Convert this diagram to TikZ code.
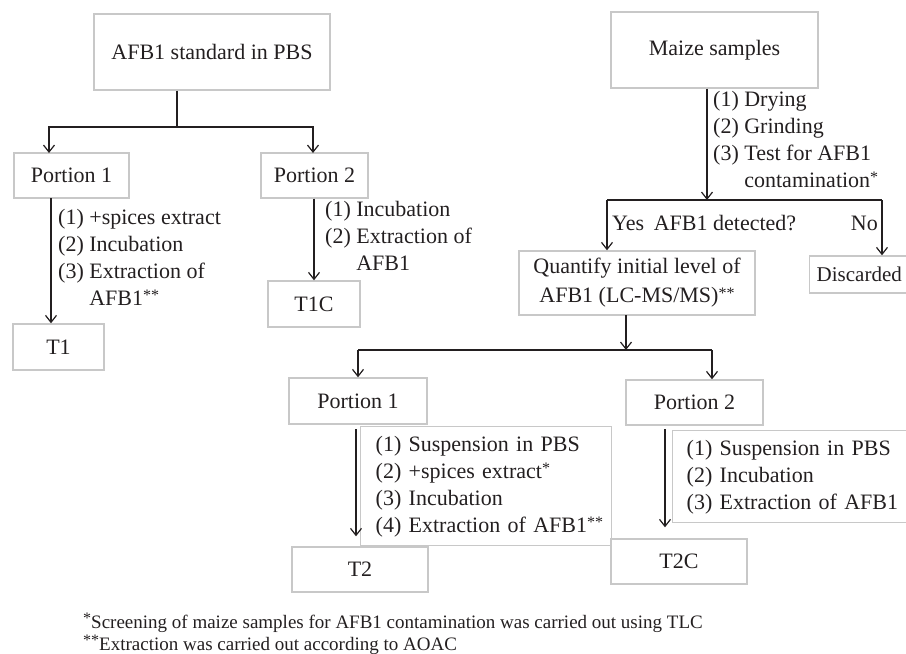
\documentclass[tikz,border=0pt]{standalone}
\usepackage{fontspec}
\setmainfont{Liberation Serif}
\usetikzlibrary{arrows.meta,calc}
\definecolor{boxgray}{HTML}{C8C8C8}
\definecolor{ink}{HTML}{231F20}
\newcommand\fnstar[1]{\raisebox{4.5pt}{\fontsize{16}{16}\selectfont #1}}
\begin{document}
\begin{tikzpicture}[x=1pt,y=-1pt,
  every node/.style={font=\fontsize{22}{27}\selectfont, text=ink},
  box/.style={draw=boxgray, line width=1.4pt, rectangle, inner sep=0pt},
  conn/.style={draw=ink, line width=1.2pt},
  arr/.style={conn, -{Straight Barb[length=7pt,width=11pt,line width=1.2pt]}},
  steps/.style={inner sep=0pt, anchor=north west, align=left},
  stepsbox/.style={box, anchor=north west, align=left, inner xsep=14pt, inner ysep=0pt},
  lbl/.style={inner sep=0pt},
  fnote/.style={lbl, anchor=base west, font=\fontsize{19}{23}\selectfont},
]
\useasboundingbox (0,0) rectangle (906,654);
\clip (0,0) rectangle (906,654);

% ---------- left part ----------
\node[box, minimum width=236pt, minimum height=76pt] (afb) at (212,52) {AFB1 standard in PBS};
\node[box, minimum width=115pt, minimum height=45pt] (p1) at (71.5,175.5) {Portion 1};
\node[box, minimum width=107pt, minimum height=45pt] (p2) at (314.5,175.5) {Portion 2};
\node[box, minimum width=91pt, minimum height=46pt] (t1) at (58.5,347) {T1};
\node[box, minimum width=92pt, minimum height=46pt] (t1c) at (314,304) {T1C};

\coordinate (j1) at (177,127);
\coordinate (p1in) at (49,153);
\coordinate (p2in) at (313,153);
\draw[conn] (afb.south -| j1) -- (j1);
\draw[arr] (j1) -| (p1in);
\draw[arr] (j1) -| (p2in);

\coordinate (p1out) at (51,198);
\draw[arr] (p1out) -- (p1out |- t1.north);
\draw[arr] (t1c.north |- p2.south) -- (t1c.north);

\node[steps] (s1) at (58,205) {\begin{tabular}{@{}l@{\ }l@{}}(1) & +spices extract\\(2) & Incubation\\(3) & Extraction of\\ & AFB1\fnstar{**}\end{tabular}};
\node[steps] (s2) at (325,197) {\begin{tabular}{@{}l@{\ }l@{}}(1) & Incubation\\(2) & Extraction of\\ & AFB1\end{tabular}};

% ---------- right part ----------
\node[box, minimum width=207pt, minimum height=76pt] (maize) at (714.5,50) {Maize samples};
\node[steps] (s3) at (713,87) {\begin{tabular}{@{}l@{\ }l@{}}(1) & Drying\\(2) & Grinding\\(3) & Test for AFB1\\ & contamination\fnstar{*}\end{tabular}};

\coordinate (j2) at (707,200);
\coordinate (jq) at (607,200);
\coordinate (jd) at (882,200);
\draw[arr] (maize.south -| j2) -- (j2);
\draw[conn] (jq) -- (jd);

\node[box, minimum width=236pt, minimum height=64pt, align=center,
  font=\fontsize{22}{29}\selectfont] (quant) at (637,283) {Quantify initial level of\\AFB1 (LC-MS/MS)\fnstar{**}};
\node[box, anchor=west, minimum height=37pt, inner xsep=7pt, font=\fontsize{21}{27}\selectfont] (disc) at (809,274.5) {Discarded};

\draw[arr] (jq) -- (jq |- quant.north);
\draw[arr] (jd) -- (jd |- disc.north);

\node[lbl, anchor=west] (yes) at (612,223) {Yes};
\node[lbl] (det) at (725,223) {AFB1 detected?};
\node[lbl, anchor=east] (no) at (878,223) {No};

\coordinate (qout) at (626,315);
\coordinate (j3) at (626,350);
\coordinate (q1in) at (358,350);
\coordinate (q2in) at (712,350);
\draw[arr] (qout) -- (j3);
\draw[conn] (q1in) -- (q2in);

\node[box, minimum width=138pt, minimum height=46pt] (q1) at (358,401) {Portion 1};
\node[box, minimum width=137pt, minimum height=45pt] (q2) at (694.5,402.5) {Portion 2};
\draw[arr] (q1in) -- (q1in |- q1.north);
\draw[arr] (q2in) -- (q2in |- q2.north);

\node[box, minimum width=136pt, minimum height=45pt] (t2) at (360,569.5) {T2};
\node[box, minimum width=136pt, minimum height=45pt] (t2c) at (679,561.5) {T2C};

\node[stepsbox, minimum height=119pt, text width=221pt, inner xsep=15pt] (sb1) at (360,426)
  {\begin{tabular}{@{}l@{}}(1) Suspension in PBS\\(2) +spices extract\fnstar{*}\\(3) Incubation\\(4) Extraction of AFB1\fnstar{**}\end{tabular}};
\node[stepsbox, minimum height=92pt, text width=215pt] (sb2) at (672,430)
  {\begin{tabular}{@{}l@{}}(1) Suspension in PBS\\(2) Incubation\\(3) Extraction of AFB1\end{tabular}};

\coordinate (a1) at (356,429);
\coordinate (a2) at (665,429);
\draw[arr, shorten >=10pt] (a1) -- (a1 |- t2.north);
\draw[arr, shorten >=11pt] (a2) -- (a2 |- t2c.north);

% ---------- footnotes ----------
\node[fnote] (fn1) at (83,628) {\fnstar{*}Screening of maize samples for AFB1 contamination was carried out using TLC};
\node[fnote] (fn2) at (83,650) {\fnstar{**}Extraction was carried out according to AOAC};
\end{tikzpicture}
\end{document}
